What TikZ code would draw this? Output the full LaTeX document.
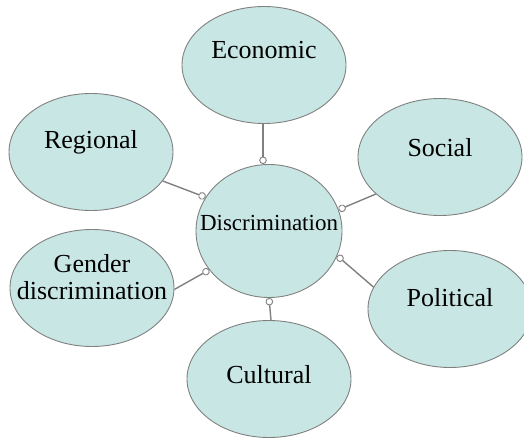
\documentclass[tikz,border=0pt]{standalone}
\usepackage{fontspec}
\setmainfont{Liberation Serif}
\usepackage{tikz}
\usetikzlibrary{arrows.meta, shapes.geometric}
\definecolor{bubblefill}{HTML}{C8E7E4}
\definecolor{linegray}{HTML}{808080}

\begin{document}
\begin{tikzpicture}[
x=1pt, y=-1pt,
bubble/.style={ellipse, draw=linegray, fill=bubblefill, line width=0.9pt,
  minimum width=164pt, minimum height=117pt, inner sep=0pt},
lbl/.style={font=\fontsize{26}{27}\selectfont, align=center, inner sep=0pt},
link/.style={draw=linegray, line width=1.4pt,
  -{Circle[length=7.5pt, fill=white, line width=0.9pt]}}
]
\useasboundingbox (0,0) rectangle (524,438);
\clip (0,0) rectangle (524,438);

% centre
\node[bubble, minimum width=146pt, minimum height=133pt] (disc) at (269,231) {};
\node[lbl, font=\fontsize{23}{24}\selectfont] (disclbl) at ([yshift=8pt]disc.center) {Discrimination};

% outer bubbles
\node[bubble] (econ) at (264,65) {};
\node[bubble] (reg) at (91,152) {};
\node[bubble] (soc) at (440,157) {};
\node[bubble] (gen) at (92,288) {};
\node[bubble] (pol) at (450,309) {};
\node[bubble] (cult) at (269,379) {};

\node[lbl] (econlbl) at ([yshift=15pt]econ.center) {Economic};
\node[lbl] (reglbl) at ([yshift=10pt]reg.center) {Regional};
\node[lbl] (soclbl) at ([yshift=9pt]soc.center) {Social};
\node[lbl] (genlbl) at ([yshift=11pt]gen.center) {Gender\\discrimination};
\node[lbl] (pollbl) at ([yshift=11pt]pol.center) {Political};
\node[lbl] (cultlbl) at ([yshift=4pt]cult.center) {Cultural};

% links
\draw[link] ([xshift=-1pt]econ.south) -- ([xshift=-1pt]econ.south |- disc.north);
\draw[link] (reg.-22) -- (disc.152);
\draw[link] (soc.210) -- (disc.17);
\draw[link] (gen.-1) -- (disc.-147);
\draw[link] (pol.164) -- (disc.-20);
\draw[link] ([xshift=2pt]cult.north) -- (disc.south);

\end{tikzpicture}
\end{document}
